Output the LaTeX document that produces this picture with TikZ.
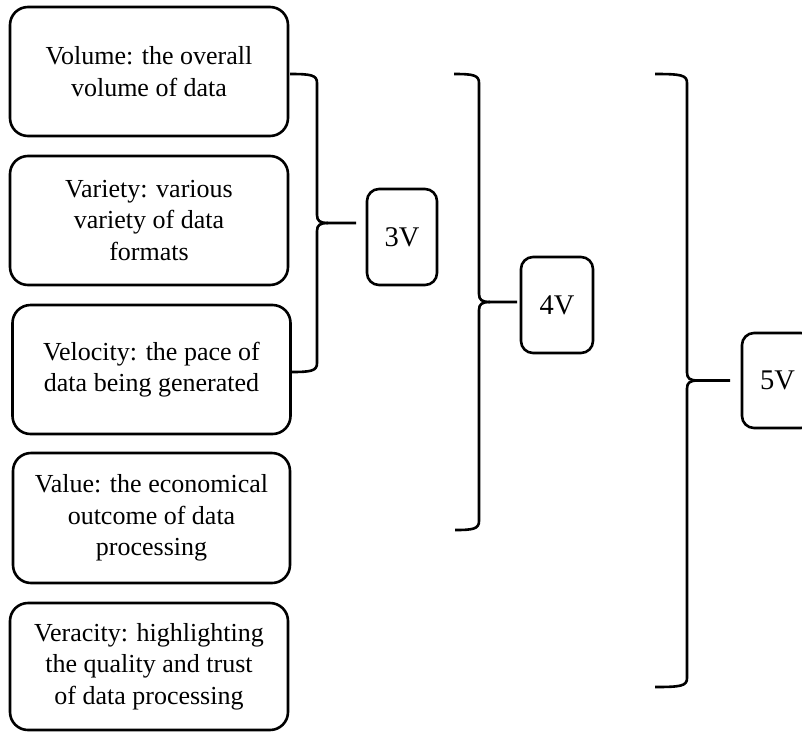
\documentclass[tikz,border=0pt]{standalone}
\usepackage{fontspec}
\setmainfont{Liberation Serif}
\newcommand\mybrace[6]{% #1 left x (top), #2 left x (bottom), #3 top y, #4 bottom y, #5 vertical x, #6 tip end x
  \pgfmathsetmacro\bm{(#3+#4)/2}
  \draw[bracestyle] (#1,#3) .. controls (#5-6,#3) and (#5,#3+1) .. (#5,#3+9) -- (#5,\bm-8) .. controls (#5,\bm-2) and (#5+3,\bm) .. (#5+11,\bm) -- (#6,\bm);
  \draw[bracestyle] (#2,#4) .. controls (#5-6,#4) and (#5,#4-1) .. (#5,#4-9) -- (#5,\bm+8) .. controls (#5,\bm+2) and (#5+3,\bm) .. (#5+11,\bm);
}
\begin{document}
\begin{tikzpicture}[x=1pt,y=-1pt,
  box/.style={draw, line width=2.6pt, rounded corners=18pt, align=center,
    font=\fontsize{26}{31.5}\selectfont, inner sep=0pt, minimum width=278pt, minimum height=129pt},
  vbox/.style={draw, line width=2.6pt, rounded corners=12pt,
    font=\fontsize{28.5}{32}\selectfont, inner sep=0pt, minimum width=71pt, minimum height=96pt},
  bracestyle/.style={line width=2.6pt, line join=round}]
\path[use as bounding box, clip] (0,0) rectangle (802,731);
\node[box] (b1) at (149,71.5) {Volume: the overall\\volume of data};
\node[box] (b2) at (149,220.5) {Variety: various\\variety of data\\formats};
\node[box] (b3) at (151.5,369.5) {Velocity: the pace of\\data being generated};
\node[box, minimum width=277pt, minimum height=130pt] (b4) at (151.5,518) {Value: the economical\\outcome of data\\processing};
\node[box, minimum height=127pt] (b5) at (149,666.5) {Veracity: highlighting\\the quality and trust\\of data processing};
\node[vbox, minimum width=70pt] (v3) at (402,237) {3V};
\node[vbox, minimum width=72pt] (v4) at (557,305) {4V};
\node[vbox, minimum height=95pt] (v5) at (777.5,380.5) {5V};
\mybrace{290}{291}{74}{372}{317}{356}
\mybrace{454}{455}{74}{530}{479}{517}
\mybrace{655}{655}{74}{687}{687}{730}
\end{tikzpicture}
\end{document}
